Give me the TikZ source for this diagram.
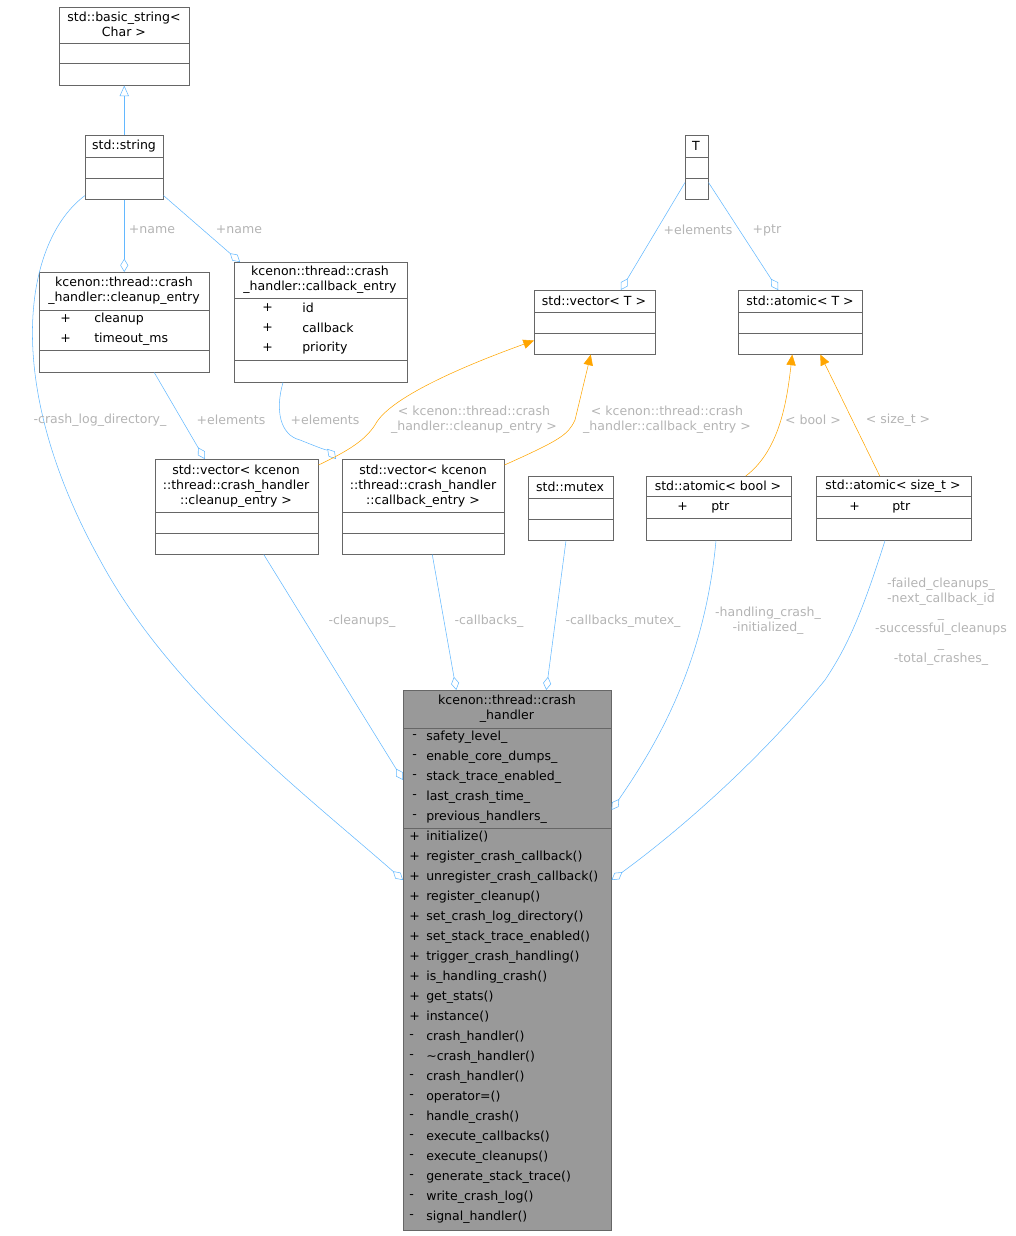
\documentclass[tikz,border=0pt]{standalone}
\usepackage{fontspec}
\setmainfont{DejaVu Sans}
\usetikzlibrary{arrows.meta,calc}
\definecolor{edgeblue}{HTML}{63B8FF}
\definecolor{edgeorange}{HTML}{FFA500}
\definecolor{lblgrey}{HTML}{B4B4B4}
\definecolor{boxline}{HTML}{666666}
\tikzset{
  cls/.style={draw=boxline,fill=white,inner sep=0pt,anchor=north west},
  txt/.style={font=\fontsize{9.4}{11.2}\selectfont,inner sep=0pt,align=center},
  mem/.style={txt,anchor=west},
  lbl/.style={txt,text=lblgrey},
  agg/.style={draw=edgeblue,-{Diamond[open,length=10pt,width=6pt]}},
  inh/.style={draw=edgeblue,-{Triangle[open,length=8pt,width=7pt]}},
  tpl/.style={draw=edgeorange,-{Triangle[length=8pt,width=7pt]}}
}
% box: name, x, y, width, height
\newcommand{\umlbox}[5]{\node[cls,minimum width=#4*0.75pt,minimum height=#5*0.75pt] (#1) at (#2,#3) {};}
\begin{document}
\begin{tikzpicture}[x=0.75pt,y=-0.75pt]
  \useasboundingbox (0,0) rectangle (1016,1236);

  % classes
  \umlbox{bstr}{59}{7}{130}{78}
  \node[txt] (bstrt) at (124,24) {std::basic\_string<\\Char >};
  \draw[boxline] (59,43) -- (189,43) (59,63) -- (189,63);

  \umlbox{str}{85}{135}{78}{64}
  \node[txt] (strt) at (124,146) {std::string};
  \draw[boxline] (85,157) -- (163,157) (85,178) -- (163,178);

  \umlbox{cle}{39}{272}{170}{100}
  \node[txt] (clet) at (124,291) {kcenon::thread::crash\\\_handler::cleanup\_entry};
  \draw[boxline] (39,310) -- (209,310) (39,350) -- (209,350);
  \node[mem] at (60,319) {+}; \node[mem] at (94,319) {cleanup};
  \node[mem] at (60,339) {+}; \node[mem] at (94,339) {timeout\_ms};

  \umlbox{cbe}{234}{262}{173}{120}
  \node[txt] (cbet) at (320,280) {kcenon::thread::crash\\\_handler::callback\_entry};
  \draw[boxline] (234,298) -- (407,298) (234,360) -- (407,360);
  \foreach \t [count=\i from 0] in {id,callback,priority} {
    \node[mem] at (262,308+20*\i) {+};
    \node[mem] at (302,308+20*\i) {\t};
  }

  \umlbox{tt}{685}{135}{23}{64}
  \node[txt] (ttt) at (696,146) {T};
  \draw[boxline] (685,157) -- (708,157) (685,178) -- (708,178);

  \umlbox{vt}{534}{290}{121}{64}
  \node[txt] (vtt) at (594,301) {std::vector< T >};
  \draw[boxline] (534,312) -- (655,312) (534,333) -- (655,333);

  \umlbox{at}{738}{290}{124}{64}
  \node[txt] (att) at (800,301) {std::atomic< T >};
  \draw[boxline] (738,312) -- (862,312) (738,333) -- (862,333);

  \umlbox{vcl}{155}{459}{163}{95}
  \node[txt] (vclt) at (236,486) {std::vector< kcenon\\::thread::crash\_handler\\::cleanup\_entry >};
  \draw[boxline] (155,512) -- (318,512) (155,533) -- (318,533);

  \umlbox{vcb}{342}{459}{162}{95}
  \node[txt] (vcbt) at (423,486) {std::vector< kcenon\\::thread::crash\_handler\\::callback\_entry >};
  \draw[boxline] (342,512) -- (504,512) (342,533) -- (504,533);

  \umlbox{mtx}{528}{476}{85}{64}
  \node[txt] (mtxt) at (570,487) {std::mutex};
  \draw[boxline] (528,498) -- (613,498) (528,519) -- (613,519);

  \umlbox{ab}{646}{476}{145}{64}
  \node[txt] (abt) at (718,486) {std::atomic< bool >};
  \draw[boxline] (646,496) -- (791,496) (646,518) -- (791,518);
  \node[mem] at (677,507) {+}; \node[mem] at (711,507) {ptr};

  \umlbox{as}{816}{476}{155}{64}
  \node[txt] (ast) at (893,486) {std::atomic< size\_t >};
  \draw[boxline] (816,496) -- (971,496) (816,518) -- (971,518);
  \node[mem] at (849,507) {+}; \node[mem] at (892,507) {ptr};

  % main class
  \node[cls,fill=black!40,minimum width=208*0.75pt,minimum height=540*0.75pt] (ch) at (403,690) {};
  \node[txt] (cht) at (507,709) {kcenon::thread::crash\\\_handler};
  \draw[boxline] (403,728) -- (611,728) (403,828) -- (611,828);
  \foreach \t [count=\i from 0] in {safety\_level\_,enable\_core\_dumps\_,stack\_trace\_enabled\_,last\_crash\_time\_,previous\_handlers\_} {
    \node[mem] at (412,737+20*\i) {-};
    \node[mem] at (426,737+20*\i) {\t};
  }
  \foreach \s/\t [count=\i from 0] in {+/initialize(),+/register\_crash\_callback(),+/unregister\_crash\_callback(),
      +/register\_cleanup(),+/set\_crash\_log\_directory(),+/set\_stack\_trace\_enabled(),+/trigger\_crash\_handling(),
      +/is\_handling\_crash(),+/get\_stats(),+/instance(),-/crash\_handler(),-/\textasciitilde crash\_handler(),
      -/crash\_handler(),-/operator=(),-/handle\_crash(),-/execute\_callbacks(),-/execute\_cleanups(),
      -/generate\_stack\_trace(),-/write\_crash\_log(),-/signal\_handler()} {
    \node[mem] at (409,837+20*\i) {\s};
    \node[mem] at (426,837+20*\i) {\t};
  }

  % connectors
  \draw[inh] (str.north) -- (bstr.south);
  \draw[agg] (str.south) -- (cle.north);
  \node[lbl] at (152,230) {+name};
  \draw[agg] ($(str.south east)+(0,-4)$) -- ($(cbe.north west)+(6,0)$);
  \node[lbl] at (239,230) {+name};
  \draw[agg] ($(str.south west)+(0,-4)$) .. controls (25,240) and (0,380) .. (100,560)
    .. controls (170,690) and (300,790) .. ($(ch.north west)+(0,190)$);
  \node[lbl] at (100,420) {-crash\_log\_directory\_};

  \draw[agg] ($(tt.south west)+(0,-17)$) -- ($(vt.north)+(26,0)$);
  \node[lbl] at (698,230) {+elements};
  \draw[agg] ($(tt.south east)+(0,-17)$) -- ($(at.north)+(-22,0)$);
  \node[lbl] at (767,230) {+ptr};

  \draw[agg] ($(cle.south)+(30,0)$) -- ($(vcl.north)+(-32,0)$);
  \node[lbl] at (231,420) {+elements};
  \draw[agg] (cbe.south -| 283,0) .. controls (275,410) and (280,435) .. (300,440)
    .. controls (320,448) and (330,452) .. ($(vcb.north west)+(-6,0)$);
  \node[lbl] at (325,420) {+elements};

  \draw[tpl] ($(vcl.north east)+(0,6)$) .. controls (350,450) and (365,440) .. (375,425)
    .. controls (390,395) and (480,360) .. ($(vt.south west)+(0,-14)$);
  \node[lbl] at (474,420) {< kcenon::thread::crash\\\_handler::cleanup\_entry >};
  \draw[tpl] ($(vcb.north east)+(0,6)$) .. controls (560,440) and (568,435) .. (575,420)
    -- ($(vt.south)+(-4,0)$);
  \node[lbl] at (667,420) {< kcenon::thread::crash\\\_handler::callback\_entry >};

  \draw[tpl] ($(ab.north)+(27,0)$) .. controls (780,450) and (787,400) .. ($(at.south)+(-8,0)$);
  \node[lbl] at (813,420) {< bool >};
  \draw[tpl] ($(as.north)+(-14,0)$) -- ($(at.south)+(20,0)$);
  \node[lbl] at (898,420) {< size\_t >};

  \draw[agg] ($(vcl.south)+(27,0)$) -- ($(ch.north west)+(0,90)$);
  \node[lbl] at (362,621) {-cleanups\_};
  \draw[agg] ($(vcb.south)+(9,0)$) -- ($(ch.north)+(-51,0)$);
  \node[lbl] at (489,621) {-callbacks\_};
  \draw[agg] (mtx.south -| 566,0) -- ($(ch.north)+(39,0)$);
  \node[lbl] at (623,621) {-callbacks\_mutex\_};
  \draw[agg] (ab.south -| 716,0) .. controls (705,660) and (660,740) .. ($(ch.north east)+(0,120)$);
  \node[lbl] at (768,621) {-handling\_crash\_\\-initialized\_};
  \draw[agg] (as.south -| 885,0) .. controls (860,620) and (845,650) .. (825,680)
    .. controls (760,760) and (680,830) .. ($(ch.north east)+(0,190)$);
  \node[lbl] at (941,622) {-failed\_cleanups\_\\-next\_callback\_id\\\_\\-successful\_cleanups\\\_\\-total\_crashes\_};
\end{tikzpicture}
\end{document}
